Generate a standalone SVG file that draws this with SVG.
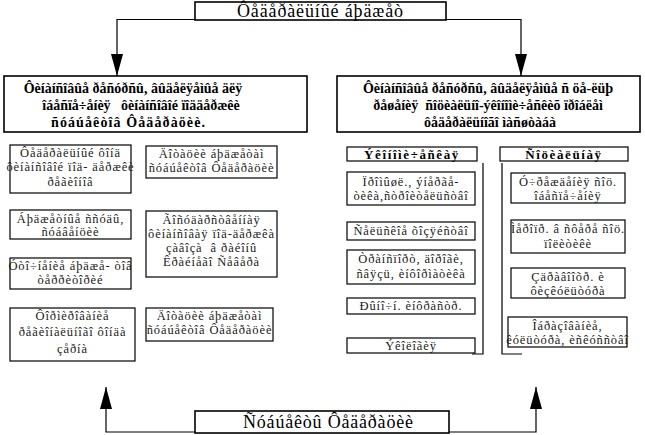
<svg xmlns="http://www.w3.org/2000/svg" width="645" height="435" viewBox="0 0 645 435">
<style>
.bg{fill:#fff}
.box{fill:#fff;stroke:#000;stroke-width:1.2}
.hbox{fill:#fff;stroke:#000;stroke-width:1.6}
.t{font-family:"Liberation Serif",serif;font-size:12.5px;letter-spacing:0.9px;fill:#1a1a1a;text-anchor:middle}
.h{font-family:"Liberation Serif",serif;font-size:14px;font-weight:bold;fill:#000;text-anchor:middle}
.hs{font-family:"Liberation Serif",serif;font-size:13px;font-weight:bold;letter-spacing:1.6px;fill:#000;text-anchor:middle}
.big{font-family:"Liberation Serif",serif;font-size:18px;fill:#000;text-anchor:middle}
.ln{fill:none;stroke:#000;stroke-width:1.2}
</style>
<defs>
<marker id="ah" viewBox="0 0 22 12" refX="22" refY="6" markerWidth="22" markerHeight="12" markerUnits="userSpaceOnUse" orient="auto">
<path d="M0,0 L22,6 L0,12 z" fill="#000"/>
</marker>
</defs>
<rect class="bg" width="645" height="435"/>
<g id="connectors">
<polyline class="ln" points="195,19.5 117,19.5 117,76" marker-end="url(#ah)"/>
<polyline class="ln" points="446,19.5 521,19.5 521,76" marker-end="url(#ah)"/>
<polyline class="ln" points="195,432 106,432 106,387" marker-end="url(#ah)"/>
<polyline class="ln" points="449,432 536,432 536,387" marker-end="url(#ah)"/>
<polyline class="ln" points="483,163 483,354 472,354"/>
<polyline class="ln" points="502,163 502,354 522,354"/>
</g>
<g id="federal-budget">
<rect class="hbox" x="195" y="2" width="251" height="18"/>
<text class="big" x="320" y="17" textLength="166">Ôåäåðàëüíûé áþäæåò</text>
</g>
<g id="fin-left">
<rect class="hbox" x="4" y="76" width="303" height="56"/>
<text class="h" x="133" y="93">Ôèíàíñîâûå ðåñóðñû, âûäåëÿåìûå äëÿ</text>
<text class="h" x="141" y="110" xml:space="preserve">îáåñïå÷åíèÿ   ôèíàíñîâîé ïîääåðæêè</text>
<text class="h" x="128" y="127" textLength="154">ñóáúåêòîâ Ôåäåðàöèè.</text>
</g>
<g id="fin-right">
<rect class="hbox" x="337" y="76" width="303" height="56"/>
<text class="h" x="488" y="93">Ôèíàíñîâûå ðåñóðñû, âûäåëÿåìûå ñ öå-ëüþ</text>
<text class="h" x="488" y="110" xml:space="preserve">ðåøåíèÿ  ñîöèàëüíî-ýêîíîìè÷åñêèõ ïðîáëåì</text>
<text class="h" x="490" y="127">ôåäåðàëüíîãî ìàñøòàáà</text>
</g>
<g id="l1">
<rect class="box" x="10" y="145" width="121" height="48"/>
<text class="t" x="70.5" y="157">Ôåäåðàëüíûé ôîíä</text>
<text class="t" x="70.5" y="171">ôèíàíñîâîé ïîä- äåðæêè</text>
<text class="t" x="70.5" y="186">ðåãèîíîâ</text>
</g>
<g id="l2">
<rect class="box" x="10" y="210" width="121" height="29"/>
<text class="t" x="70.5" y="223">Áþäæåòíûå ññóäû,</text>
<text class="t" x="70.5" y="236">ñóáâåíöèè</text>
</g>
<g id="l3">
<rect class="box" x="10" y="258" width="121" height="31"/>
<text class="t" x="70.5" y="270">Óòî÷íåíèå áþäæå- òîâ</text>
<text class="t" x="70.5" y="284">òåððèòîðèé</text>
</g>
<g id="l4">
<rect class="box" x="10" y="308" width="125" height="53"/>
<text class="t" x="72.5" y="320">Ôîðìèðîâàíèå</text>
<text class="t" x="72.5" y="336">ðåãèîíàëüíîãî ôîíäà</text>
<text class="t" x="72.5" y="353">çåðíà</text>
</g>
<g id="r1">
<rect class="box" x="146" y="146" width="131" height="32"/>
<text class="t" x="211.5" y="158">Äîòàöèè áþäæåòàì</text>
<text class="t" x="211.5" y="172">ñóáúåêòîâ Ôåäåðàöèè</text>
</g>
<g id="r2">
<rect class="box" x="146" y="211" width="131" height="66"/>
<text class="t" x="211.5" y="224">Ãîñóäàðñòâåííàÿ</text>
<text class="t" x="211.5" y="238">ôèíàíñîâàÿ ïîä-äåðæêà</text>
<text class="t" x="211.5" y="252" xml:space="preserve">çàâîçà  â ðàéîíû</text>
<text class="t" x="211.5" y="266">Êðàéíåãî Ñåâåðà</text>
</g>
<g id="r3">
<rect class="box" x="146" y="308" width="127" height="33"/>
<text class="t" x="209.5" y="320">Äîòàöèè áþäæåòàì</text>
<text class="t" x="209.5" y="334">ñóáúåêòîâ Ôåäåðàöèè</text>
</g>
<g id="econ">
<rect class="box" x="347" y="147" width="130" height="14"/>
<text class="hs" x="412" y="158.5">Ýêîíîìè÷åñêàÿ</text>
</g>
<g id="e1">
<rect class="box" x="347" y="172" width="128" height="33"/>
<text class="t" x="411" y="186">Ïðîìûøë., ýíåðãå-</text>
<text class="t" x="411" y="200">òèêà,ñòðîèòåëüñòâî</text>
</g>
<g id="e2">
<rect class="box" x="347" y="222" width="128" height="18"/>
<text class="t" x="411" y="235">Ñåëüñêîå õîçÿéñòâî</text>
</g>
<g id="e3">
<rect class="box" x="347" y="250" width="128" height="34"/>
<text class="t" x="411" y="263">Òðàíñïîðò, äîðîãè,</text>
<text class="t" x="411" y="278">ñâÿçü, èíôîðìàòèêà</text>
</g>
<g id="e4">
<rect class="box" x="347" y="298" width="128" height="16"/>
<text class="t" x="411" y="310">Ðûíî÷í. èíôðàñòð.</text>
</g>
<g id="e5">
<rect class="box" x="347" y="338" width="128" height="15"/>
<text class="t" x="411" y="349.5">Ýêîëîãèÿ</text>
</g>
<g id="social">
<rect class="box" x="500" y="147" width="128" height="14"/>
<text class="hs" x="564" y="158.5">Ñîöèàëüíàÿ</text>
</g>
<g id="s1">
<rect class="box" x="511" y="173" width="114" height="30"/>
<text class="t" x="568" y="186">Ó÷ðåæäåíèÿ ñîö.</text>
<text class="t" x="568" y="200">îáåñïå÷åíèÿ</text>
</g>
<g id="s2">
<rect class="box" x="511" y="220" width="114" height="33"/>
<text class="t" x="568" y="233">Ìåðîïð. â ñôåðå ñîö.</text>
<text class="t" x="568" y="248">ïîëèòèêè</text>
</g>
<g id="s3">
<rect class="box" x="511" y="268" width="114" height="30"/>
<text class="t" x="568" y="281">Çäðàâîîõð. è</text>
<text class="t" x="568" y="295">ôèçêóëüòóðà</text>
</g>
<g id="s4">
<rect class="box" x="508" y="317" width="119" height="30"/>
<text class="t" x="567.5" y="330">Îáðàçîâàíèå,</text>
<text class="t" x="567.5" y="344">êóëüòóðà, èñêóññòâî</text>
</g>
<g id="subjects">
<rect class="hbox" x="195" y="411" width="254" height="22"/>
<text class="big" x="328" y="428" textLength="170">Ñóáúåêòû Ôåäåðàöèè</text>
</g>
</svg>
